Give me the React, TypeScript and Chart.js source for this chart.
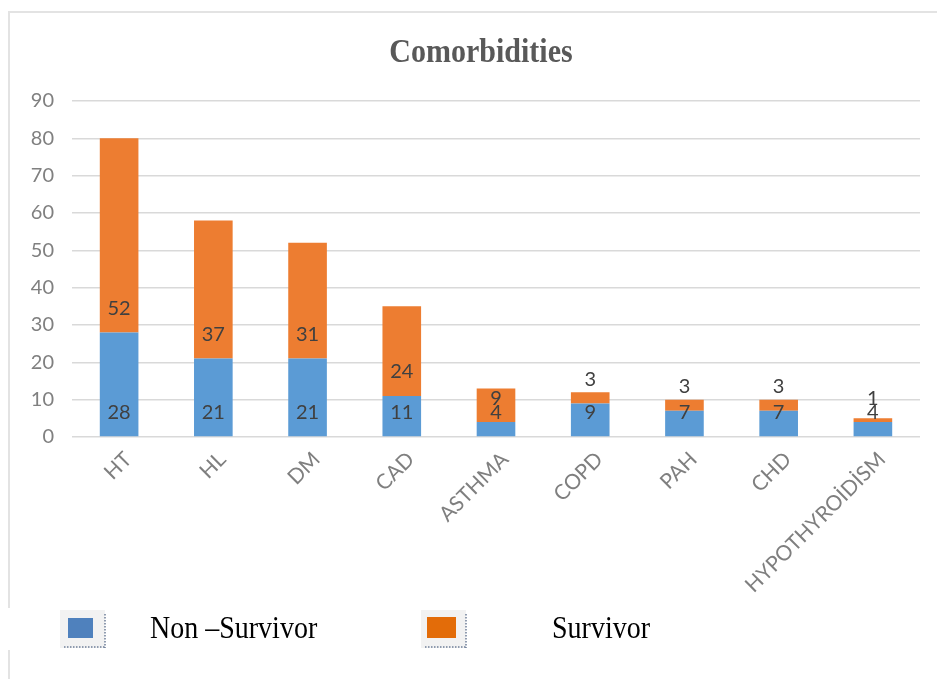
import React, { useEffect, useRef } from "react";
import { Chart, registerables } from "chart.js";

Chart.register(...registerables);

const chartTitle = "Comorbidities";
const categories = ["HT", "HL", "DM", "CAD", "ASTHMA", "COPD", "PAH", "CHD", "HYPOTHYROİDİSM"];
const nonSurvivor = [28, 21, 21, 11, 4, 9, 7, 7, 4];
const survivor = [52, 37, 31, 24, 9, 3, 3, 3, 1];
const seriesNames = ["Non –Survivor", "Survivor"];
const yMin = 0;
const yMax = 90;
const yStep = 10;

const barColors = ["#5B9BD5", "#ED7D31"];
const legendColors = ["#4F81BD", "#E36C09"];

const labelPlugin = {
  id: "segLabels",
  afterDatasetsDraw(chart: any) {
    const ctx = chart.ctx;
    ctx.save();
    ctx.font = "20px Lato";
    ctx.fillStyle = "#404040";
    ctx.textAlign = "center";
    ctx.textBaseline = "middle";
    chart.data.datasets.forEach((ds: any, i: number) => {
      const meta = chart.getDatasetMeta(i);
      meta.data.forEach((el: any, j: number) => {
        const p = el.getProps(["x", "base"], true);
        ctx.fillText(String(ds.data[j]), p.x, p.base - 24);
      });
    });
    ctx.restore();
  },
};

const decorPlugin = {
  id: "decor",
  afterDraw(chart: any) {
    const ctx = chart.ctx;
    ctx.save();
    // frame lines
    ctx.strokeStyle = "#e3e3e3";
    ctx.lineWidth = 2;
    ctx.beginPath();
    ctx.moveTo(8, 12);
    ctx.lineTo(937, 12);
    ctx.moveTo(9, 12);
    ctx.lineTo(9, 608);
    ctx.moveTo(9, 650);
    ctx.lineTo(9, 679);
    ctx.stroke();

    // title
    ctx.save();
    ctx.translate(481, 62);
    ctx.scale(1, 1.1);
    ctx.font = "bold 30px 'Liberation Serif'";
    ctx.fillStyle = "#595959";
    ctx.textAlign = "center";
    ctx.textBaseline = "alphabetic";
    ctx.fillText(chartTitle, 0, 0);
    ctx.restore();

    // legend
    const items = [
      { box: 60, inner: [68, 618, 25, 20], text: 150 },
      { box: 421, inner: [427, 617, 29, 21], text: 552 },
    ];
    items.forEach((it, i) => {
      ctx.fillStyle = "#f2f2f2";
      ctx.fillRect(it.box, 610, 45, 38);
      ctx.fillStyle = legendColors[i];
      ctx.fillRect(it.inner[0], it.inner[1], it.inner[2], it.inner[3]);
      ctx.strokeStyle = "#6f7f99";
      ctx.lineWidth = 1.5;
      ctx.setLineDash([1.5, 1.5]);
      ctx.beginPath();
      ctx.moveTo(it.box + 45, 614);
      ctx.lineTo(it.box + 45, 648);
      ctx.moveTo(it.box + 4, 647);
      ctx.lineTo(it.box + 45, 647);
      ctx.stroke();
      ctx.setLineDash([]);
      ctx.save();
      ctx.translate(it.text, 638);
      ctx.scale(1, 1.13);
      ctx.font = "28px 'Liberation Serif'";
      ctx.fillStyle = "#000000";
      ctx.textAlign = "left";
      ctx.textBaseline = "alphabetic";
      ctx.fillText(seriesNames[i], 0, 0);
      ctx.restore();
    });
    ctx.restore();
  },
};

export default function App() {
  const ref = useRef<HTMLCanvasElement>(null);
  useEffect(() => {
    if (!ref.current) return;
    const chart = new Chart(ref.current, {
      type: "bar",
      data: {
        labels: categories,
        datasets: [
          { label: seriesNames[0], data: nonSurvivor, backgroundColor: barColors[0], barPercentage: 0.41, categoryPercentage: 1 },
          { label: seriesNames[1], data: survivor, backgroundColor: barColors[1], barPercentage: 0.41, categoryPercentage: 1 },
        ],
      },
      options: {
        responsive: false,
        animation: false,
        layout: { padding: { left: 0, right: 17, top: 101, bottom: 0 } },
        plugins: { legend: { display: false }, title: { display: false }, tooltip: { enabled: false } },
        scales: {
          x: {
            stacked: true,
            grid: { display: false },
            border: { display: false },
            ticks: {
              autoSkip: false,
              minRotation: 45,
              maxRotation: 45,
              padding: 2,
              labelOffset: 9,
              color: "#7f7f7f",
              font: { family: "Lato", size: 21 },
            },
            afterFit: (s: any) => { s.height = 242; },
          },
          y: {
            stacked: true,
            min: yMin,
            max: yMax,
            grid: { color: "#d9d9d9", lineWidth: 1.5, drawTicks: false },
            border: { display: false },
            ticks: {
              stepSize: yStep,
              padding: 18,
              color: "#808080",
              font: { family: "Lato", size: 20 },
            },
            afterFit: (s: any) => { s.width = 72; },
          },
        },
      },
      plugins: [labelPlugin, decorPlugin],
    });
    return () => chart.destroy();
  }, []);
  return (
    <div style={{ position: "absolute", left: 0, top: 0, width: 937, height: 679, background: "#fff" }}>
      <canvas ref={ref} width={937} height={679} style={{ display: "block" }} />
    </div>
  );
}
